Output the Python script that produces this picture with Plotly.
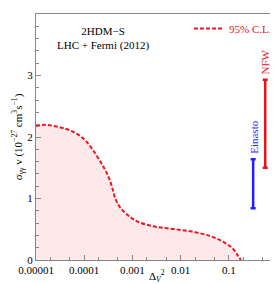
import numpy as np
import plotly.graph_objects as go

# 95% C.L. boundary
delta_v2 = [1e-5, 1.55e-5, 2.63e-5, 4.27e-5, 6.76e-5, 1.07e-4, 1.74e-4, 2.57e-4,
            3.24e-4, 3.80e-4, 4.47e-4, 5.62e-4, 8.32e-4, 1.32e-3, 3.09e-3, 7.94e-3,
            0.0204, 0.0447, 0.083, 0.123, 0.155, 0.178]
sigma_v = [2.18, 2.20, 2.17, 2.13, 2.06, 1.94, 1.72, 1.50, 1.34, 1.18, 0.99, 0.85,
           0.72, 0.62, 0.54, 0.50, 0.45, 0.38, 0.28, 0.18, 0.07, 0.0]

# Fermi line ranges for profiles
profiles = ["Einasto", "NFW"]
profile_x = [0.32, 0.57]
profile_lo = [0.84, 1.50]
profile_hi = [1.64, 2.93]
profile_colors = ["#1f1fff", "#e8141c"]

x_tickvals = [1e-5, 1e-4, 1e-3, 1e-2, 1e-1, 1]
x_ticktext = ["0.00001", "0.0001", "0.001", "0.01", "0.1", "1."]

FONT = "Liberation Serif, Times New Roman, DejaVu Serif, serif"
RED = "#f0141e"

fig = go.Figure()
fig.add_trace(go.Scatter(x=delta_v2, y=sigma_v, mode="lines", fill="tozeroy",
                         fillcolor="#fde9e9", line=dict(width=0, shape="spline"),
                         showlegend=False, hoverinfo="skip"))
fig.add_trace(go.Scatter(x=delta_v2, y=sigma_v, mode="lines", name="95% C.L.",
                         line=dict(color=RED, width=2, dash="4px,2px", shape="spline")))

for name, xv, lo, hi, c in zip(profiles, profile_x, profile_lo, profile_hi, profile_colors):
    mid = (lo + hi) / 2
    fig.add_trace(go.Scatter(x=[xv], y=[mid], mode="markers", marker=dict(size=0.1, color=c),
                             error_y=dict(type="data", symmetric=False, array=[hi - mid],
                                          arrayminus=[mid - lo], color=c, thickness=2.5, width=2.5),
                             showlegend=False))
    fig.add_annotation(x=np.log10(xv), y=hi, xref="x", yref="y", text=name, textangle=-90,
                       showarrow=False, xanchor="center", yanchor="bottom", yshift=3,
                       font=dict(family=FONT, size=11, color=c))

fig.add_annotation(x=0.28, y=0.965, xref="paper", yref="paper", showarrow=False,
                   text="2HDM−S<br>LHC + Fermi (2012)", align="center",
                   xanchor="center", yanchor="top",
                   font=dict(family=FONT, size=11, color="black"))

# x-axis title placed as annotation just under the tick labels
fig.add_annotation(x=0.5, y=0, xref="paper", yref="paper", showarrow=False,
                   text="Δ<sub><i>V</i></sub><sup>2</sup>", xanchor="center", yanchor="bottom",
                   yshift=-26, font=dict(family=FONT, size=11, color="black"))

fig.update_layout(
    width=278, height=284,
    margin=dict(l=28, r=5, t=6, b=32),
    paper_bgcolor="white", plot_bgcolor="white",
    font=dict(family=FONT, size=11, color="black"),
    legend=dict(x=1, y=1, xanchor="right", yanchor="top", bgcolor="rgba(0,0,0,0)",
                font=dict(family=FONT, size=11, color=RED), itemwidth=30,
                tracegroupgap=0),
)
fig.update_xaxes(type="log", range=[-5, 0], tickvals=x_tickvals, ticktext=x_ticktext,
                 ticks="inside", ticklen=5, tickcolor="#888", showline=True, linecolor="#888",
                 mirror=True, showgrid=False, zeroline=False,
                 tickfont=dict(family=FONT, size=11),
                 minor=dict(ticks="inside", ticklen=3, tickcolor="#888"))
fig.update_yaxes(range=[0, 4], dtick=1, ticks="inside", ticklen=5, tickcolor="#888",
                 showline=True, linecolor="#888", mirror=True, showgrid=False, zeroline=False,
                 tickfont=dict(family=FONT, size=11),
                 minor=dict(dtick=0.2, ticks="inside", ticklen=3, tickcolor="#888"),
                 title=dict(text="σ<sub>γγ</sub> v (10<sup>−27</sup> cm<sup>3</sup>s<sup>−1</sup>)",
                            standoff=2, font=dict(family=FONT, size=11)))

fig.write_html("out.html")
